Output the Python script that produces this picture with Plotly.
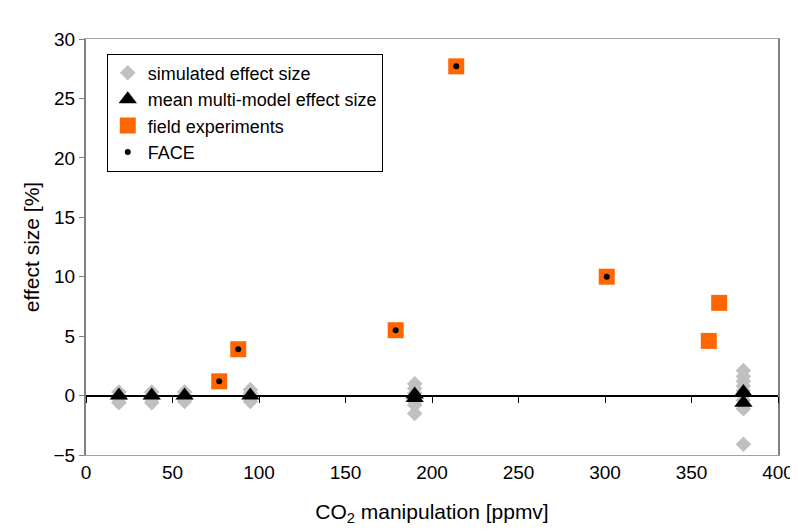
import plotly.graph_objects as go

sim_x = [19,19,19,19, 38,38,38,38, 57,57,57,57, 95,95,95,95,
         190,190,190,190,190,190,190, 380,380,380,380,380,380,380,380,380,380]
sim_y = [0.3,0.0,-0.3,-0.6, 0.3,0.0,-0.3,-0.6, 0.3,0.0,-0.3,-0.5, 0.5,0.2,-0.2,-0.5,
         1.0,0.6,0.2,-0.2,-0.5,-0.8,-1.5, 2.1,1.6,1.2,0.8,0.4,0.0,-0.4,-0.8,-1.1,-4.1]
mean_x = [19, 38, 57, 95, 190, 190, 380, 380]
mean_y = [0.0, 0.0, 0.0, 0.0, 0.1, -0.2, 0.3, -0.6]
field_x = [77, 88, 179, 214, 301, 360, 366]
field_y = [1.2, 3.9, 5.5, 27.7, 10.0, 4.6, 7.8]
face_x = [77, 88, 179, 214, 301]
face_y = [1.2, 3.9, 5.5, 27.7, 10.0]

fig = go.Figure()
fig.add_trace(go.Scatter(x=sim_x, y=sim_y, mode="markers", name="simulated effect size",
    marker=dict(symbol="diamond", size=12, color="#c0c0c0")))
fig.add_trace(go.Scatter(x=mean_x, y=mean_y, mode="markers", name="mean multi-model effect size",
    marker=dict(symbol="triangle-up", size=16, color="black")))
fig.add_trace(go.Scatter(x=field_x, y=field_y, mode="markers", name="field experiments",
    marker=dict(symbol="square", size=16, color="#ff6600")))
fig.add_trace(go.Scatter(x=face_x, y=face_y, mode="markers", name="FACE",
    marker=dict(symbol="circle", size=6, color="black")))
fig.add_trace(go.Scatter(x=[0], y=[0], xaxis="x2", mode="markers", marker=dict(opacity=0),
    showlegend=False, hoverinfo="skip"))

font = dict(family="Liberation Sans, Arial", color="black")
fig.update_layout(
    width=790, height=524, margin=dict(l=78, r=20, t=31, b=77),
    paper_bgcolor="white", plot_bgcolor="white", font=dict(size=19, **font),
    xaxis=dict(range=[0, 400], dtick=50, showgrid=False, zeroline=False, automargin=False,
               title=dict(text="CO<sub>2</sub> manipulation [ppmv]", font=dict(size=21), standoff=22),
               mirror=True, showline=True, linecolor="#a0a0a0", ticks=""),
    xaxis2=dict(range=[0, 400], dtick=50, overlaying="x", anchor="free", position=1/7,
                showline=True, linecolor="black", linewidth=2, ticks="outside", ticklen=6,
                tickcolor="black", showticklabels=False, showgrid=False, zeroline=False),
    yaxis=dict(range=[-5, 30], dtick=5, showgrid=False, zeroline=False, automargin=False,
               title=dict(text="effect size [%]", font=dict(size=21), standoff=8),
               showline=True, linecolor="#808080", linewidth=2, mirror=True,
               ticks="outside", ticklen=5, tickcolor="#808080"),
    legend=dict(x=0.03, y=0.965, xanchor="left", yanchor="top", bordercolor="black",
                borderwidth=1, bgcolor="white", font=dict(size=18), itemsizing="trace",
                tracegroupgap=0, itemwidth=30),
)
fig.write_html("out.html")
